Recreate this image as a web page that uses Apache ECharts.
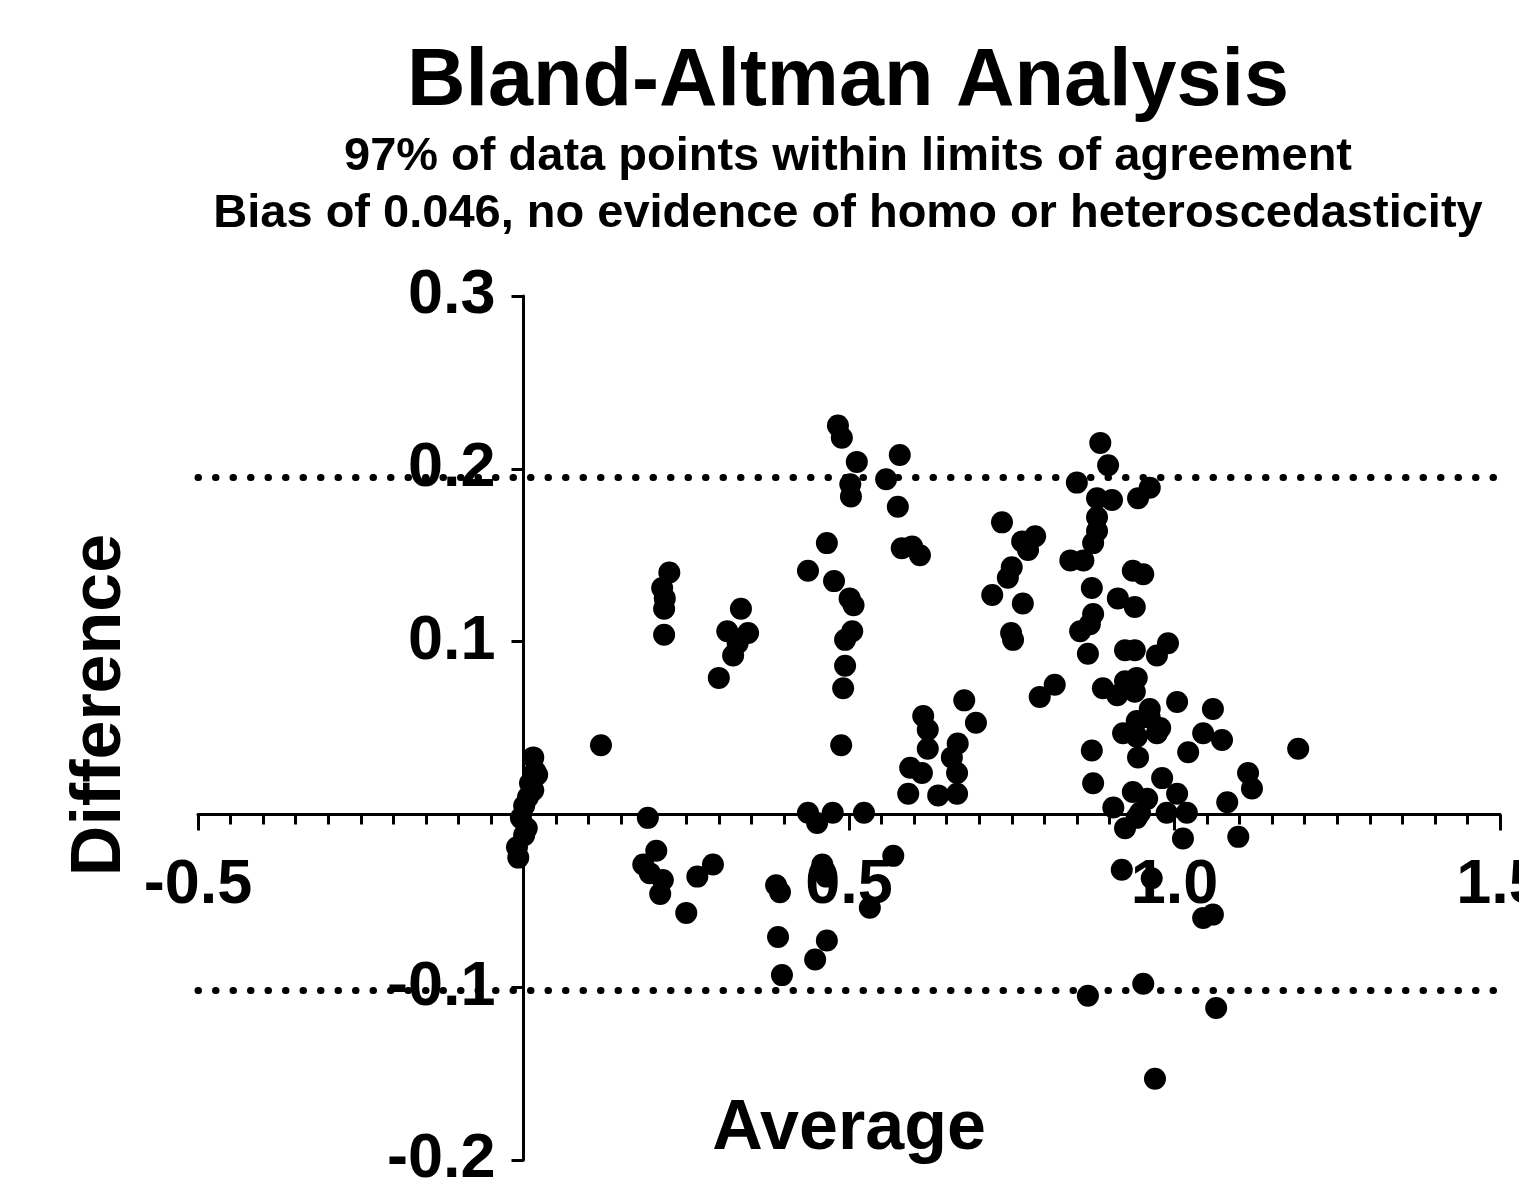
<!DOCTYPE html>
<html>
<head>
<meta charset="utf-8">
<title>Bland-Altman Analysis</title>
<script src="https://cdn.jsdelivr.net/npm/echarts@6/dist/echarts.min.js"></script>
<style>
  html, body { margin: 0; padding: 0; background: #fff; }
  #chart { width: 1519px; height: 1184px; }
</style>
</head>
<body>
<div id="chart"></div>
<script>
// Bland-Altman data: average of the two methods (x) and their difference (y)
var averages = [
  0.015, 0.021, 0.018, 0.010, 0.015, 0.007, 0.001, -0.004, 0.005, 0.001, -0.010, -0.008,
  0.119,
  0.224, 0.213, 0.217, 0.216, 0.216,
  0.334, 0.313, 0.345, 0.329, 0.322, 0.300,
  0.191, 0.204, 0.184, 0.194, 0.214, 0.210, 0.250, 0.267, 0.291,
  0.466, 0.437, 0.477, 0.501, 0.507, 0.505, 0.494, 0.494, 0.491, 0.488,
  0.437, 0.451, 0.475, 0.523,
  0.483, 0.489, 0.512, 0.502, 0.503, 0.578, 0.557, 0.575, 0.581, 0.597, 0.609,
  0.388, 0.394, 0.391, 0.397, 0.448, 0.466, 0.459, 0.465, 0.532, 0.568,
  0.677, 0.695, 0.614, 0.621, 0.621, 0.667, 0.658, 0.594, 0.612, 0.666, 0.591, 0.637, 0.666,
  0.735, 0.766, 0.786, 0.775, 0.750, 0.744, 0.720, 0.767, 0.749, 0.752, 0.793, 0.816,
  0.886, 0.898, 0.850, 0.881, 0.904, 0.944, 0.962, 0.881, 0.881, 0.875, 0.840, 0.860, 0.936, 0.952,
  0.873, 0.913, 0.939, 0.875, 0.870, 0.855, 0.867, 0.924, 0.939, 0.973, 0.990,
  0.890, 0.912, 0.924, 0.942, 0.939, 0.962, 1.004, 1.059,
  0.942, 0.962, 0.978, 0.921, 0.942, 0.973, 0.944, 0.873, 1.021, 1.044, 1.073, 1.190,
  0.875, 0.981, 0.936, 0.958, 1.004, 0.906, 1.019, 0.988, 0.947, 0.924, 0.942,
  1.081, 1.113, 1.119, 1.098, 1.013,
  0.919, 0.965, 1.044, 1.059, 0.867, 0.952, 1.064, 0.970
];
var differences = [
  0.033, 0.023, 0.025, 0.018, 0.014, 0.010, 0.005, -0.002, -0.008, -0.012, -0.019, -0.025,
  0.040,
  0.140, 0.131, 0.125, 0.119, 0.104,
  0.119, 0.106, 0.105, 0.099, 0.092, 0.079,
  -0.002, -0.021, -0.029, -0.034, -0.038, -0.046, -0.057, -0.036, -0.029,
  0.157, 0.141, 0.135, 0.125, 0.121, 0.106, 0.101, 0.086, 0.073, 0.040,
  0.001, -0.005, 0.001, 0.001,
  0.225, 0.218, 0.204, 0.191, 0.184, 0.208, 0.194, 0.178, 0.154, 0.155, 0.150,
  -0.041, -0.045, -0.071, -0.093, -0.084, -0.073, -0.029, -0.036, -0.054, -0.024,
  0.066, 0.053, 0.057, 0.049, 0.038, 0.041, 0.033, 0.027, 0.024, 0.024, 0.012, 0.011, 0.012,
  0.169, 0.158, 0.161, 0.153, 0.143, 0.137, 0.127, 0.122, 0.105, 0.101, 0.068, 0.075,
  0.215, 0.202, 0.192, 0.183, 0.182, 0.183, 0.189, 0.172, 0.164, 0.157, 0.147, 0.147, 0.141, 0.139,
  0.131, 0.125, 0.120, 0.116, 0.110, 0.106, 0.093, 0.095, 0.095, 0.092, 0.099,
  0.073, 0.069, 0.077, 0.079, 0.071, 0.061, 0.065, 0.061,
  0.054, 0.056, 0.050, 0.047, 0.045, 0.047, 0.033, 0.037, 0.036, 0.047, 0.043, 0.038,
  0.018, 0.021, 0.013, 0.009, 0.012, 0.004, 0.001, 0.001, 0.001, -0.008, -0.002,
  0.007, 0.024, 0.015, -0.013, -0.014,
  -0.032, -0.037, -0.060, -0.058, -0.105, -0.098, -0.112, -0.153
];
// limits of agreement (bias 0.046 +/- 1.96 SD)
var limitsOfAgreement = [0.195, -0.102];

var titleText = 'Bland-Altman Analysis';
var subtitleLines = [
  '97% of data points within limits of agreement',
  'Bias of 0.046, no evidence of homo or heteroscedasticity'
];

var points = averages.map(function(x, i) {
  return [x, differences[i]];
});

var font = '"Liberation Sans", Arial, Helvetica, sans-serif';

// grid box, the axes cross at (0, 0) inside it
var gridLeft = 198, gridRight = 19, gridTop = 296, gridBottom = 24;
var plotW = 1519 - gridLeft - gridRight;
var plotH = 1184 - gridTop - gridBottom;
var xAxisOffset = -plotH * 0.2 / 0.5;   // distance from the bottom edge up to y = 0
var yAxisOffset = -plotW * 0.5 / 2.0;   // distance from the left edge over to x = 0

function tickLabel(value) {
  if (Math.abs(value) < 1e-9) {
    return '';
  }
  return value.toFixed(1);
}

var chart = echarts.init(document.getElementById('chart'), null, { renderer: 'canvas' });

var option = {
  backgroundColor: '#ffffff',
  animation: false,
  textStyle: { fontFamily: font },
  title: [{
    text: titleText,
    left: 848,
    textAlign: 'center',
    top: 42,
    padding: 0,
    textStyle: { fontSize: 81, fontWeight: 'bold', color: '#000', fontFamily: font }
  }, {
    text: subtitleLines[0],
    left: 848,
    textAlign: 'center',
    top: 134,
    padding: 0,
    textStyle: { fontSize: 47, fontWeight: 'bold', color: '#000', fontFamily: font }
  }, {
    text: subtitleLines[1],
    left: 848,
    textAlign: 'center',
    top: 191,
    padding: 0,
    textStyle: { fontSize: 47, fontWeight: 'bold', color: '#000', fontFamily: font }
  }],
  grid: {
    left: gridLeft,
    right: gridRight,
    top: gridTop,
    bottom: gridBottom,
    containLabel: false,
    outerBoundsMode: 'none'
  },
  xAxis: {
    type: 'value',
    position: 'bottom',
    offset: xAxisOffset,
    min: -0.5,
    max: 1.5,
    interval: 0.5,
    name: 'Average',
    nameLocation: 'middle',
    nameGap: 280,
    nameTextStyle: { fontSize: 70, fontWeight: 'bold', color: '#000', fontFamily: font },
    splitLine: { show: false },
    axisLine: { show: true, onZero: false, lineStyle: { color: '#000', width: 3 } },
    axisTick: { show: true, inside: false, length: 16, lineStyle: { color: '#000', width: 3 } },
    minorTick: { show: true, splitNumber: 10, length: 10, lineStyle: { color: '#000', width: 3 } },
    axisLabel: {
      show: true,
      margin: 40,
      fontSize: 63,
      fontWeight: 'bold',
      color: '#000',
      fontFamily: font,
      showMinLabel: true,
      showMaxLabel: true,
      formatter: tickLabel
    }
  },
  yAxis: {
    type: 'value',
    position: 'left',
    offset: yAxisOffset,
    min: -0.2,
    max: 0.3,
    interval: 0.1,
    name: 'Difference',
    nameLocation: 'middle',
    nameGap: 388,
    nameTextStyle: {
      fontSize: 70, fontWeight: 'bold', color: '#000', fontFamily: font,
      padding: [0, 0, 0, 46]
    },
    splitLine: { show: false },
    axisLine: { show: true, onZero: false, lineStyle: { color: '#000', width: 3 } },
    axisTick: { show: true, inside: false, length: 12, lineStyle: { color: '#000', width: 3 } },
    axisLabel: {
      show: true,
      margin: 28,
      fontSize: 63,
      fontWeight: 'bold',
      color: '#000',
      fontFamily: font,
      showMinLabel: true,
      showMaxLabel: true,
      formatter: tickLabel
    }
  },
  series: [{
    type: 'scatter',
    data: points,
    symbol: 'circle',
    symbolSize: 22,
    itemStyle: { color: '#000', opacity: 1 },
    emphasis: { disabled: true },
    markLine: {
      silent: true,
      precision: 3,
      symbol: ['none', 'none'],
      label: { show: false },
      lineStyle: { color: '#000', width: 7, type: [0.5, 17], cap: 'round' },
      data: limitsOfAgreement.map(function(v) {
        return { yAxis: v };
      })
    }
  }]
};

chart.setOption(option);
</script>
</body>
</html>
